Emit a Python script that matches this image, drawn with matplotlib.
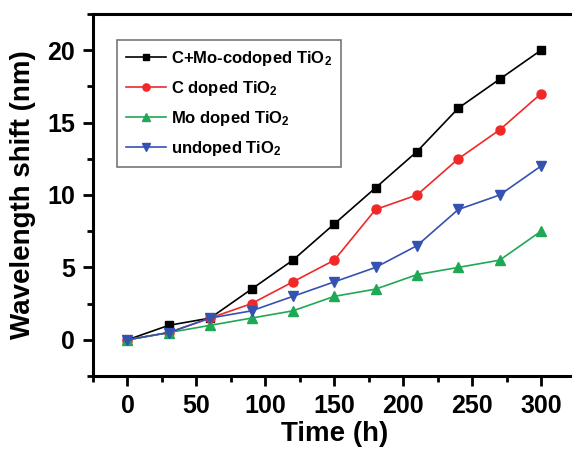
import matplotlib
matplotlib.use("Agg")
import matplotlib.pyplot as plt
from matplotlib.ticker import MultipleLocator

plt.rcParams["font.family"] = ["Liberation Sans", "DejaVu Sans"]
plt.rcParams["font.weight"] = "bold"
plt.rcParams["mathtext.fontset"] = "custom"
plt.rcParams["mathtext.rm"] = "Liberation Sans:bold"
plt.rcParams["mathtext.default"] = "rm"

time = [0, 30, 60, 90, 120, 150, 180, 210, 240, 270, 300]
c_mo = [0, 1, 1.5, 3.5, 5.5, 8, 10.5, 13, 16, 18, 20]
c_doped = [0, 0.5, 1.5, 2.5, 4, 5.5, 9, 10, 12.5, 14.5, 17]
mo_doped = [0, 0.5, 1, 1.5, 2, 3, 3.5, 4.5, 5, 5.5, 7.5]
undoped = [0, 0.5, 1.5, 2, 3, 4, 5, 6.5, 9, 10, 12]

labels = ["C+Mo-codoped TiO$_2$", "C doped TiO$_2$", "Mo doped TiO$_2$", "undoped TiO$_2$"]

fig = plt.figure(figsize=(5.72, 4.49), dpi=100)
ax = fig.add_axes([93 / 572, 1 - 376 / 449, 482.5 / 572, 362 / 449])

ax.plot(time, c_mo, "-s", color="black", lw=1.2, ms=6, label=labels[0])
ax.plot(time, c_doped, "-o", color="#f02828", lw=1.2, ms=6.5, label=labels[1])
ax.plot(time, mo_doped, "-^", color="#1fa855", lw=1.2, ms=7, label=labels[2])
ax.plot(time, undoped, "-v", color="#3552b0", lw=1.2, ms=7, label=labels[3])

ax.set_xlim(-25, 325)
ax.set_ylim(-2.5, 22.5)
ax.xaxis.set_major_locator(MultipleLocator(50))
ax.xaxis.set_minor_locator(MultipleLocator(25))
ax.yaxis.set_major_locator(MultipleLocator(5))
ax.yaxis.set_minor_locator(MultipleLocator(2.5))
ax.tick_params(which="both", direction="out", width=2, labelsize=18, pad=6)
ax.tick_params(which="major", length=7)
ax.tick_params(which="minor", length=4)
for s in ax.spines.values():
    s.set_linewidth(2.2)
ax.spines["right"].set_visible(False)

ax.set_xlabel("Time (h)", fontsize=20, fontweight="bold", labelpad=2)
ax.set_ylabel("Wavelength shift (nm)", fontsize=20, fontweight="bold", labelpad=8)

leg = ax.legend(loc="upper left", bbox_to_anchor=(0.05, 0.928), borderaxespad=0,
                fontsize=12, frameon=True, fancybox=False, edgecolor="#555555",
                handlelength=2.4, handletextpad=0.3, labelspacing=0.65,
                borderpad=0.55, markerscale=0.8)
leg.get_frame().set_linewidth(1.2)

fig.savefig("out.png", dpi=100)
